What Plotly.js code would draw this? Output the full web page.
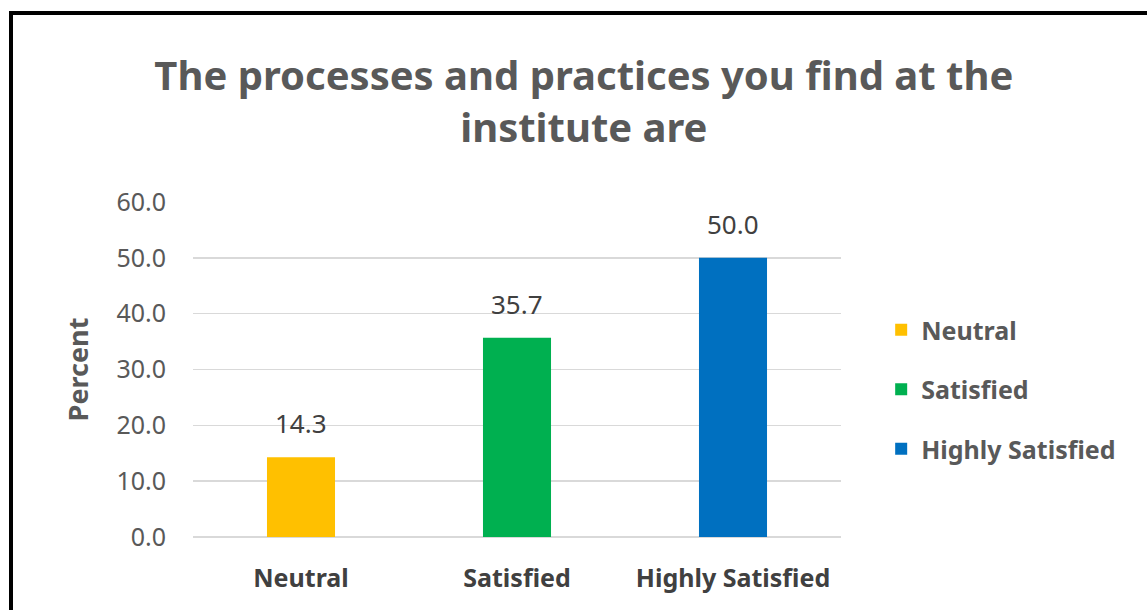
<!DOCTYPE html>
<html><head><meta charset="utf-8">
<script src="https://cdn.plot.ly/plotly-3.0.1.min.js"></script>
<style>
html,body{margin:0;padding:0;background:#fff;}
#wrap{position:relative;width:1147px;height:610px;}
#chart{width:1147px;height:610px;}
#frame{position:absolute;left:9px;top:11px;right:-10px;bottom:-10px;border-left:4px solid #000;border-top:4px solid #000;pointer-events:none;}
</style></head>
<body><div id="wrap"><div id="chart"></div><div id="frame"></div></div>
<script>
const categories = ["Neutral", "Satisfied", "Highly Satisfied"];
const percentValues = [14.3, 35.7, 50.0];
const barColors = ["#FFC000", "#00B050", "#0070C0"];
const yTickValues = [0, 10, 20, 30, 40, 50, 60];

const fontFam = "Noto Sans, Open Sans, sans-serif";
const traces = categories.map((c, i) => ({
  type: "bar",
  x: [c],
  y: [percentValues[i]],
  name: c,
  legendgroup: c,
  width: 0.315,
  marker: {color: barColors[i]},
  hoverinfo: "x+y"
}));

const annotations = categories.map((c, i) => ({
  x: c, y: percentValues[i], xref: "x", yref: "y",
  text: percentValues[i].toFixed(1), showarrow: false,
  yanchor: "bottom", yshift: 14,
  font: {family: fontFam, size: 26, color: "#404040"}
}));

const layout = {
  width: 1147, height: 610,
  margin: {l: 193, r: 306, t: 202, b: 73},
  paper_bgcolor: "#fff", plot_bgcolor: "#fff",
  barmode: "overlay",
  title: {
    text: "The processes and practices you find at the<br>institute are",
    x: 0.509, xref: "container", xanchor: "center",
    y: 0.853, yref: "container", yanchor: "middle",
    font: {family: fontFam, size: 40, color: "#595959", weight: "bold"}
  },
  xaxis: {
    type: "category", categoryorder: "array", categoryarray: categories,
    range: [-0.5, 2.5],
    showgrid: false, zeroline: false, showline: false, ticks: "",
    tickfont: {family: fontFam, size: 25, color: "#404040", weight: "bold"},
    ticklabelstandoff: 24
  },
  yaxis: {
    range: [0, 60], tickvals: yTickValues,
    tickformat: ".1f",
    showgrid: true, gridcolor: "#d9d9d9", gridwidth: 1.5,
    zeroline: true, zerolinecolor: "#d9d9d9", zerolinewidth: 1.5,
    showline: false, ticks: "",
    ticklabelstandoff: 26,
    tickfont: {family: fontFam, size: 25, color: "#595959"},
    title: {text: "Percent", standoff: 19,
      font: {family: fontFam, size: 27, color: "#595959", weight: "bold"}}
  },
  showlegend: true,
  legend: {
    x: 1.062, xanchor: "left", y: 0.44, yanchor: "middle",
    traceorder: "grouped", tracegroupgap: 24,
    itemwidth: 30,
    font: {family: fontFam, size: 25, color: "#595959", weight: "bold"}
  },
  annotations: annotations
};

Plotly.newPlot("chart", traces, layout, {displayModeBar: false, staticPlot: true});
</script></body></html>
